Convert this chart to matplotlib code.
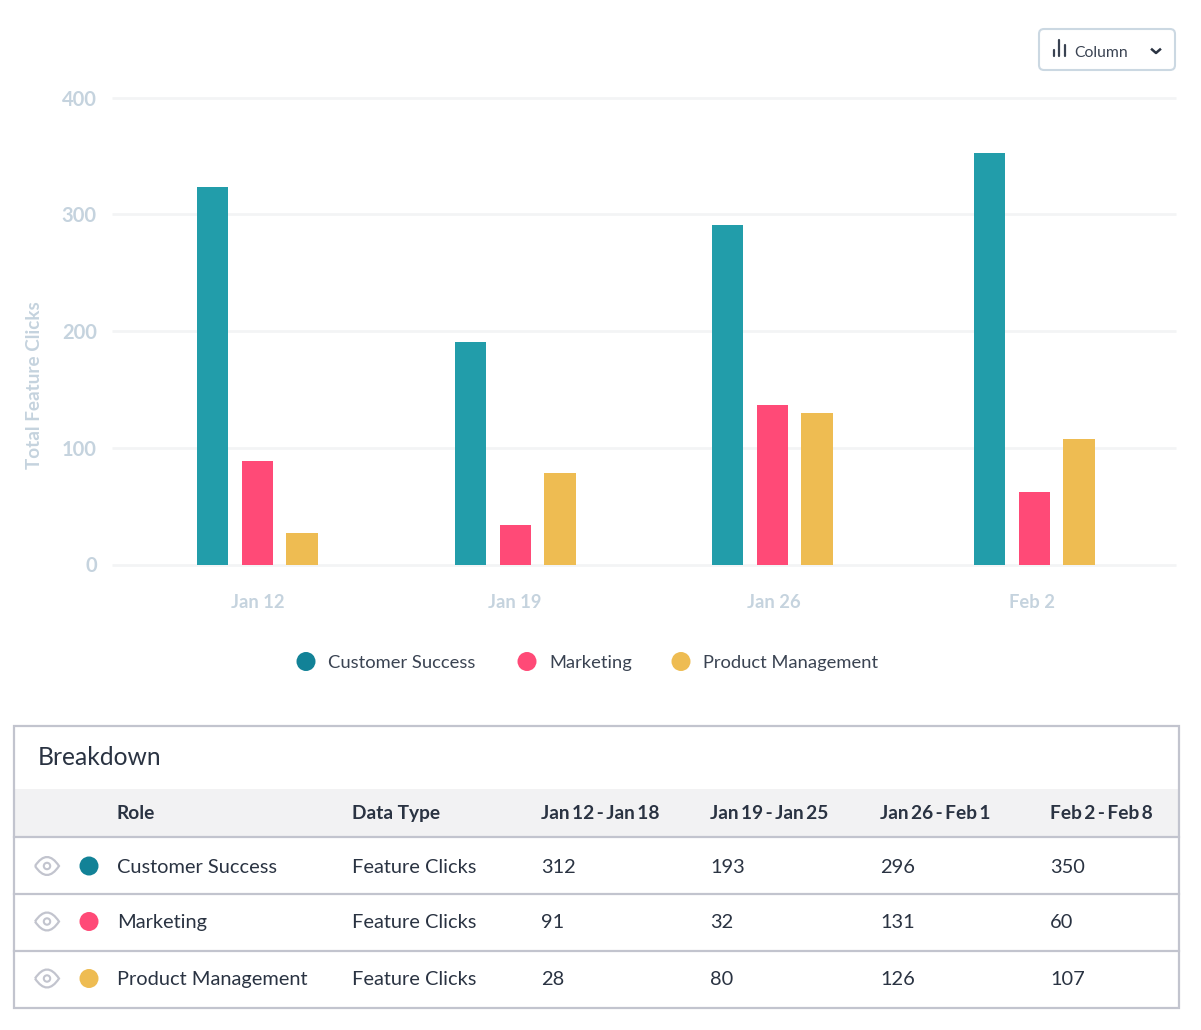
import matplotlib
matplotlib.use("Agg")
import matplotlib.pyplot as plt
from matplotlib.patches import FancyBboxPatch, Rectangle, Circle, PathPatch
from matplotlib.path import Path

plt.rcParams['font.family'] = ['Lato', 'DejaVu Sans']

weeks = ["Jan 12", "Jan 19", "Jan 26", "Feb 2"]
roles = ["Customer Success", "Marketing", "Product Management"]
customer_success = [323, 191, 291, 352.5]
marketing = [89, 33.5, 136.5, 62]
product_management = [27, 78, 129.5, 107.5]
yticks = [0, 100, 200, 300, 400]

headers = ["Role", "Data Type", "Jan\u200912\u2009-\u2009Jan\u200918", "Jan\u200919\u2009-\u2009Jan\u200925",
           "Jan\u200926\u2009-\u2009Feb\u20091", "Feb\u20092\u2009-\u2009Feb\u20098"]
data_type = "Feature Clicks"
table_cs = [312, 193, 296, 350]
table_mk = [91, 32, 131, 60]
table_pm = [28, 80, 126, 107]

bar_colors = ["#229daa", "#ff4a77", "#eebc52"]
dot_colors = ["#128297", "#ff4a77", "#eebc52"]
TICK = "#c5d3de"
GRID = "#f3f4f5"
DARK = "#2a3342"
BORDER = "#c2c4ce"

W, H = 1201, 1030
fig = plt.figure(figsize=(W / 100, H / 100), dpi=100, facecolor="white")

# page overlay in pixel coordinates
page = fig.add_axes([0, 0, 1, 1], zorder=3)
page.set_xlim(0, W)
page.set_ylim(H, 0)
page.axis("off")
page.patch.set_alpha(0)

# chart
left, right, top, bottom = 112, 1176, 97.5, 564.5
ax = fig.add_axes([left / W, 1 - bottom / H, (right - left) / W, (bottom - top) / H], zorder=1)
ax.set_xlim(left, right)
ax.set_ylim(0, 400)
group_left = [197, 455, 712, 974]
bar_w = 31.3
bar_step = 44.6
for s, vals in enumerate([customer_success, marketing, product_management]):
    ax.bar([g + s * bar_step for g in group_left], vals, width=bar_w, align="edge",
           color=bar_colors[s], zorder=3, linewidth=0)
for sp in ax.spines.values():
    sp.set_visible(False)
ax.set_yticks(yticks)
ax.set_yticklabels([str(v) for v in yticks], fontsize=14.5, fontweight="bold", color=TICK)
ax.grid(axis="y", color=GRID, linewidth=2, zorder=0, solid_capstyle="butt")
ax.set_axisbelow(True)
for g in ax.yaxis.get_gridlines():
    g.set_clip_on(False)
ax.tick_params(axis="y", length=0, pad=11)
ax.set_xticks([257.5, 514.5, 773.5, 1032])
ax.set_xticklabels(weeks, fontsize=13.2, fontweight="bold", color=TICK)
ax.tick_params(axis="x", length=0, pad=21)
page.text(35, 385, "Total Feature Clicks", rotation=90, ha="center", va="center",
          fontsize=13.6, fontweight="bold", color=TICK)

# legend
for x, tx, c, name in zip([306, 527, 681], [328, 549.5, 703], dot_colors, roles):
    page.add_patch(Circle((x, 661.5), 9.5, color=c, lw=0))
    page.text(tx, 668, name, fontsize=13.2, color="#3a4352", va="baseline")

# dropdown
page.add_patch(FancyBboxPatch((1039, 29), 136, 41, boxstyle="round,pad=0,rounding_size=5",
                              fc="white", ec="#cbd8e2", lw=1.5))
for x, y0, y1 in [(1053.5, 50, 56), (1059, 40, 56), (1065, 45, 56)]:
    page.plot([x, x], [y0, y1], color="#3a4352", lw=1.6, solid_capstyle="round")
page.text(1074.5, 57, "Column", fontsize=11.3, color="#3a4352", va="baseline")
page.plot([1152, 1156, 1160], [49.5, 53, 49.5], color=DARK, lw=1.8)

# table
tl, tr, tt, tb = 14, 1179, 726, 1008
page.add_patch(Rectangle((tl, 789), tr - tl, 48, fc="#f2f2f3", ec="none"))
page.add_patch(Rectangle((tl, tt), tr - tl, tb - tt, fc="none", ec=BORDER, lw=1.6))
for y in [837, 893.5, 950.5]:
    page.plot([tl, tr], [y, y], color=BORDER, lw=1.6)
page.text(38, 765, "Breakdown", fontsize=17.7, color=DARK, va="baseline")

cols = [117, 352, 541, 710, 880, 1050]
for x, h in zip(cols, headers):
    page.text(x, 819, h, fontsize=13.8, fontweight="bold", color=DARK, va="baseline")

rows_y = [866, 921.5, 978.5]
for y, name, dc, vals in zip(rows_y, roles, dot_colors, [table_cs, table_mk, table_pm]):
    eye = Path([(35, y), (47, y - 18), (59, y), (47, y + 18), (35, y)],
               [Path.MOVETO, Path.CURVE3, Path.CURVE3, Path.CURVE3, Path.CURVE3])
    page.add_patch(PathPatch(eye, fc="none", ec=BORDER, lw=1.6))
    page.add_patch(Circle((47, y), 3.2, fc="none", ec=BORDER, lw=1.5))
    page.add_patch(Circle((89, y), 9.5, color=dc, lw=0))
    page.text(cols[0], y + 6.8, name, fontsize=14.4, color=DARK, va="baseline")
    page.text(cols[1], y + 6.8, data_type, fontsize=14.4, color=DARK, va="baseline")
    for x, v in zip(cols[2:], vals):
        page.text(x, y + 6.8, str(v), fontsize=14.4, color=DARK, va="baseline")

fig.savefig("out.png", dpi=100, facecolor="white")
